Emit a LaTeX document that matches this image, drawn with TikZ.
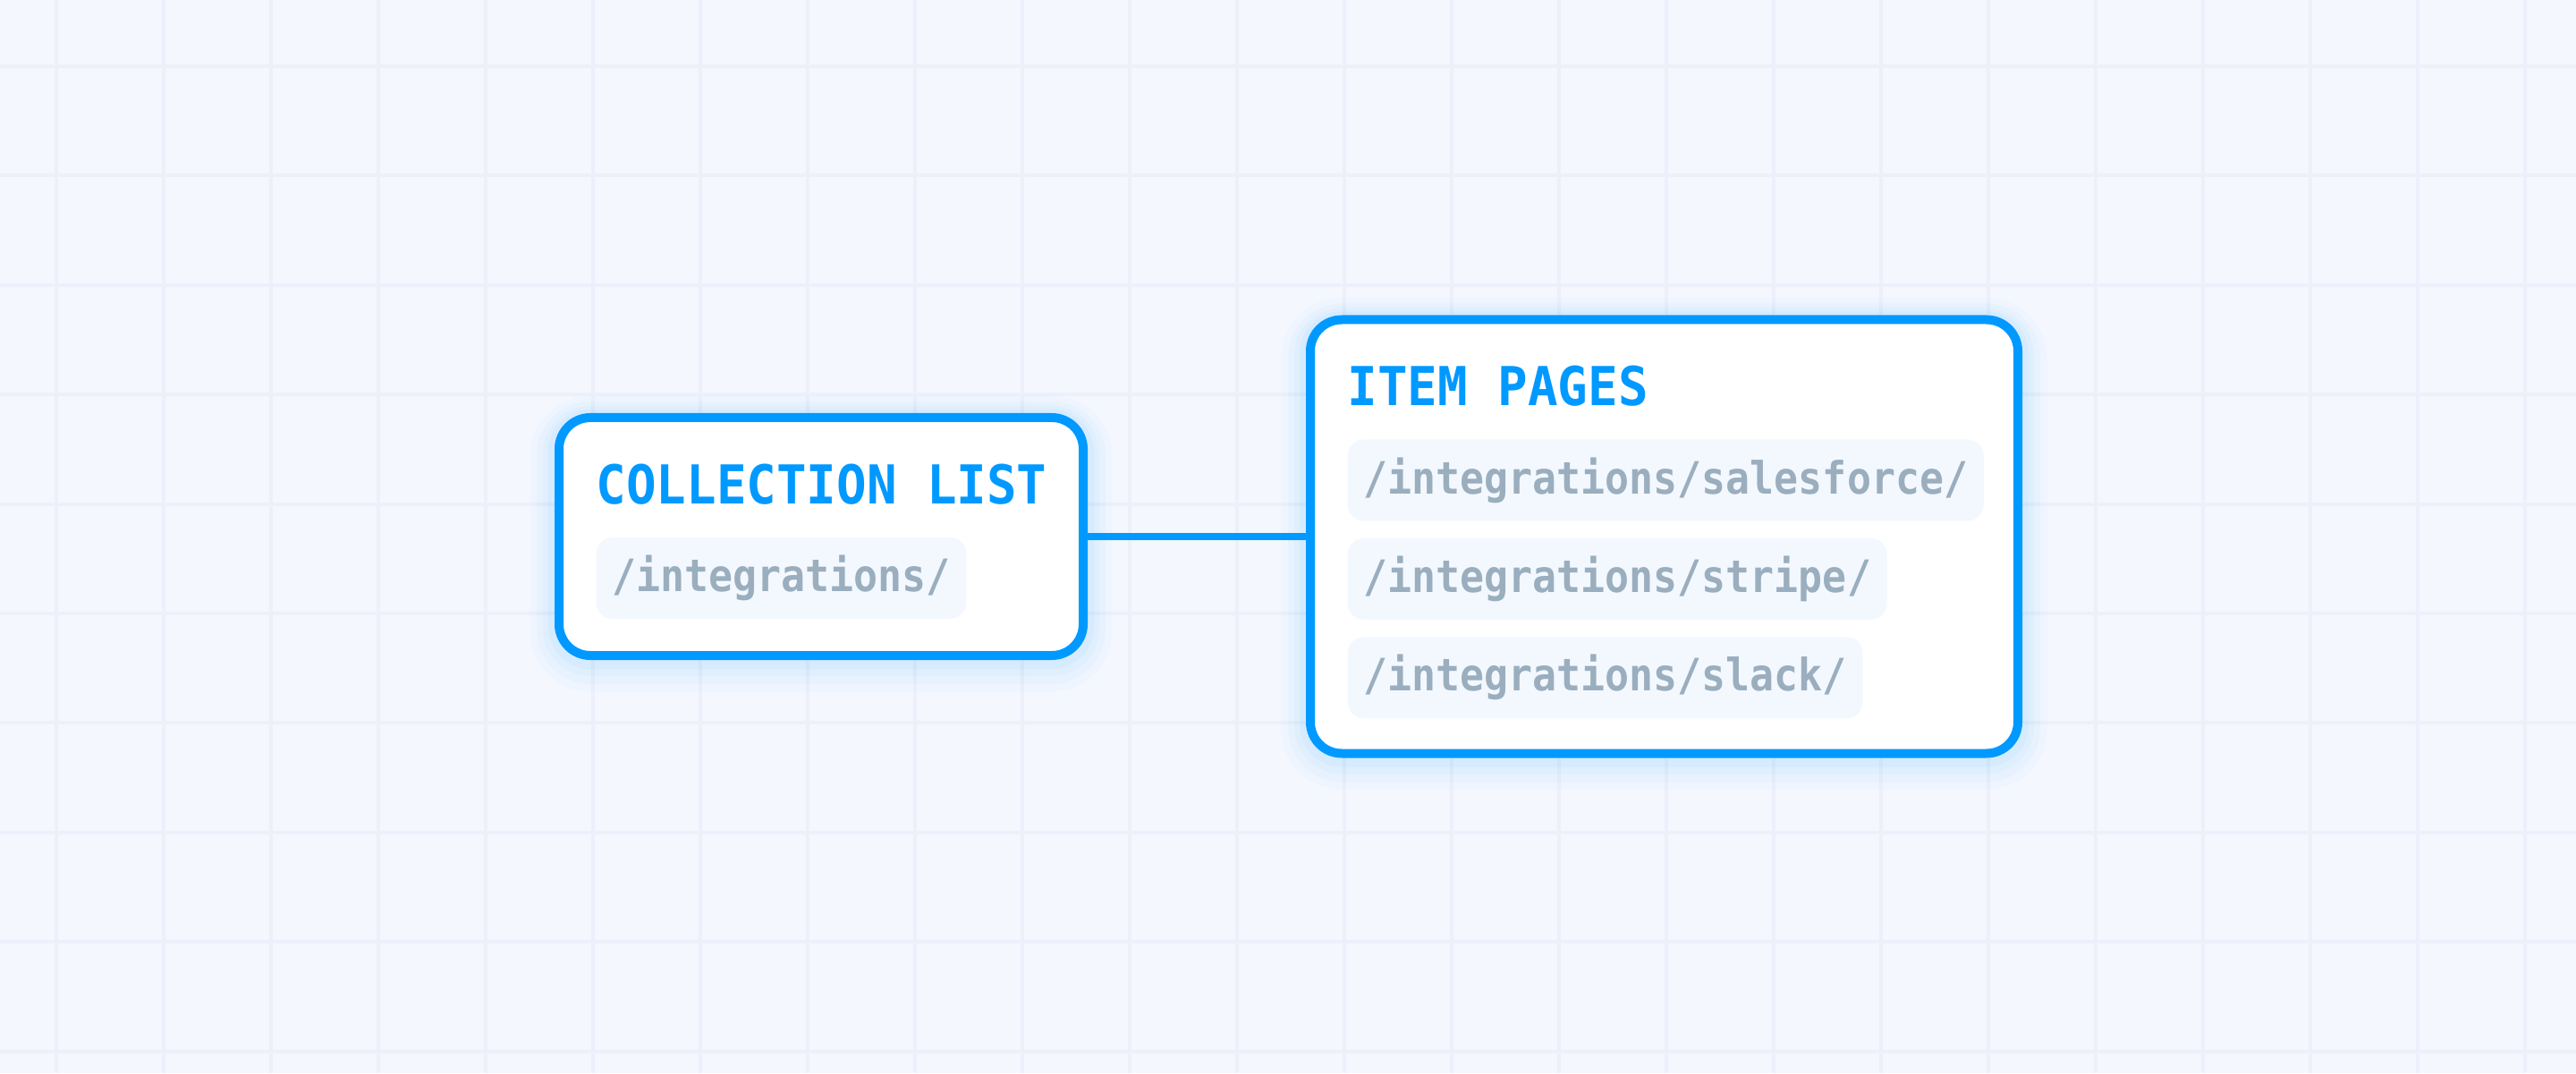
\documentclass[tikz,border=0pt]{standalone}
\usepackage{fontspec}
\usetikzlibrary{positioning}
\newfontfamily\titlefont{DejaVu Sans Mono}[FakeStretch=0.93]
\newfontfamily\pathfont{DejaVu Sans Mono}[FakeStretch=0.9]
\definecolor{cmsblue}{HTML}{0099FF}
\definecolor{pathgray}{HTML}{9AAEBE}
\definecolor{pillfill}{HTML}{F3F8FF}
\definecolor{canvas}{HTML}{F4F7FE}
\definecolor{gridline}{HTML}{EDF0FA}

\begin{document}
\begin{tikzpicture}[
    card/.style={draw=cmsblue, line width=1mm, rounded corners=3.5mm, fill=white,
        preaction={draw=cmsblue, draw opacity=0.02, line width=6.5mm, transform canvas={yshift=-0.8mm}},
        preaction={draw=cmsblue, draw opacity=0.03, line width=5mm, transform canvas={yshift=-0.7mm}},
        preaction={draw=cmsblue, draw opacity=0.03, line width=3.6mm, transform canvas={yshift=-0.5mm}},
        preaction={draw=cmsblue, draw opacity=0.04, line width=2.4mm, transform canvas={yshift=-0.3mm}}},
    heading/.style={anchor=base west, inner sep=0pt, text=cmsblue,
        font=\titlefont\bfseries\fontsize{17.07pt}{20pt}\selectfont},
    pill/.style={anchor=west, fill=pillfill, rounded corners=1.8mm, inner xsep=1.75mm,
        inner ysep=0pt, minimum height=9.1mm, text=pathgray,
        font=\pathfont\bfseries\fontsize{14.2pt}{16pt}\selectfont},
    link/.style={draw=cmsblue, line width=0.85mm}
]
    % Canvas and grid
    \fill[canvas] (0,0) rectangle (28.8,12);
    \useasboundingbox (0,0) rectangle (28.8,12);
    \foreach \x in {0,...,23}
        \draw[gridline, line width=0.4mm] (0.63+1.2*\x,0) -- (0.63+1.2*\x,12);
    \foreach \y in {0,...,9}
        \draw[gridline, line width=0.4mm] (0,11.26-1.224*\y) -- (28.8,11.26-1.224*\y);

    % Collection list card
    \node[card, minimum width=5.86cm, minimum height=2.66cm] (listcard) at (9.18,6) {};
    \node[heading] (listhead) at (6.66,6.36) {COLLECTION LIST};
    \node[pill] (listpath) at (6.66,5.535) {/integrations/};

    % Item pages card
    \node[card, minimum width=7.91cm, minimum height=4.85cm] (itemcard) at (18.605,6) {};
    \node[heading] (itemhead) at (15.06,7.46) {ITEM PAGES};
    \node[pill] (salesforce) at (15.06,6.63) {/integrations/salesforce/};
    \node[pill, below=0.18cm of salesforce.south west, anchor=north west] (stripe) {/integrations/stripe/};
    \node[pill, below=0.18cm of stripe.south west, anchor=north west] (slack) {/integrations/slack/};

    % Connector
    \draw[link] (listcard.east) -- (itemcard.west);

\end{tikzpicture}
\end{document}
